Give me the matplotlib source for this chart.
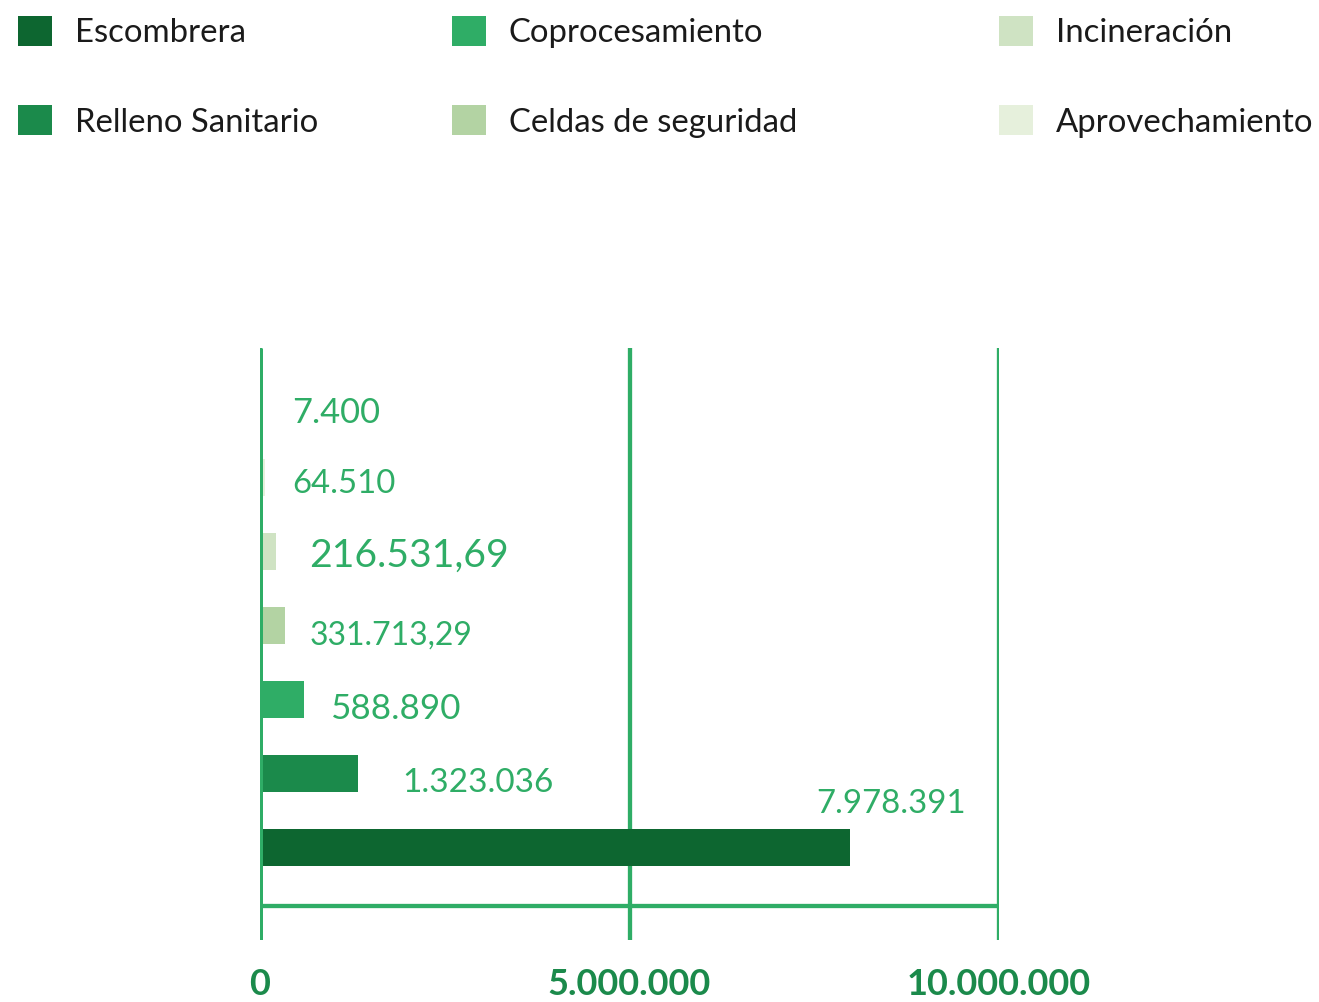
import matplotlib
matplotlib.use("Agg")
import matplotlib.pyplot as plt
from matplotlib.patches import Patch

# ---------------- data ----------------
legend_names = ["Escombrera", "Relleno Sanitario", "Coprocesamiento",
                "Celdas de seguridad", "Incineración", "Aprovechamiento"]
bar_values = [7978391, 1323036, 588890, 331713.29, 216531.69, 64510, 7400]
bar_labels = ["7.978.391", "1.323.036", "588.890", "331.713,29",
              "216.531,69", "64.510", "7.400"]
tick_values = [0, 5000000, 10000000]
tick_labels = ["0", "5.000.000", "10.000.000"]

# ---------------- style ----------------
bar_colors = ["#0d6630", "#1b8a4b", "#2fad66", "#b3d3a3", "#cfe3c3", "#e6f0dc", "#eef4e6"]
line_color = "#2fad66"
label_color = "#2fad66"
tick_color = "#1b8a4b"
label_sizes = [23.8, 24, 25.2, 23, 28.2, 23.7, 24.8]
# label offsets in points (dx, dy) from bar end / bar centre
label_offsets = [(-24, 31), (32, -6.5), (19.5, -6.5), (18, -7), (24, -3), (20, -5), (23, -7)]

plt.rcParams['font.family'] = ['Lato', 'DejaVu Sans']

W, H = 1319, 1002
fig = plt.figure(figsize=(W / 100, H / 100), dpi=100)
ax = fig.add_axes([260 / W, (H - 940) / H, (999 - 260) / W, (940 - 348) / H])

ypos = list(range(len(bar_values)))
ax.barh(ypos, bar_values, height=0.51, color=bar_colors, zorder=2)

ax.set_xlim(0, 10000000)
ax.set_ylim(-1.25, 6.75)

# grid lines
ax.vlines(tick_values, -1.25, 6.75, colors=line_color, linewidth=3.1, zorder=1)
ax.vlines([0], -1.25, 6.75, colors=line_color, linewidth=3.6, zorder=3)
ax.hlines([-0.79], 0, 10000000, colors=line_color, linewidth=3.1, zorder=3)

for i, (v, lab) in enumerate(zip(bar_values, bar_labels)):
    dx, dy = label_offsets[i]
    ax.annotate(lab, xy=(v, i), xytext=(dx, dy), textcoords="offset points",
                ha="left", va="center", color=label_color,
                fontsize=label_sizes[i], fontweight="normal")

for s in ax.spines.values():
    s.set_visible(False)
ax.set_yticks([])
ax.set_xticks(tick_values)
ax.set_xticklabels(tick_labels, fontsize=26, fontweight="bold", color=tick_color)
ax.tick_params(axis="x", length=0, pad=20.5)

# legend, three columns
handles = [Patch(facecolor=c, edgecolor="none") for c in bar_colors[:6]]
col_x = [18, 452, 999]
for k in range(3):
    leg = fig.legend(handles[2 * k:2 * k + 2], legend_names[2 * k:2 * k + 2],
                     loc="upper left", bbox_to_anchor=(col_x[k] / W, (H - 16) / H),
                     frameon=False, fontsize=23.7, handlelength=1.03, handleheight=1.03,
                     handletextpad=0.7, labelspacing=1.73, borderpad=0,
                     borderaxespad=0)
    for t in leg.get_texts():
        t.set_color("#1a1a1a")

fig.savefig("out.png", dpi=100)
